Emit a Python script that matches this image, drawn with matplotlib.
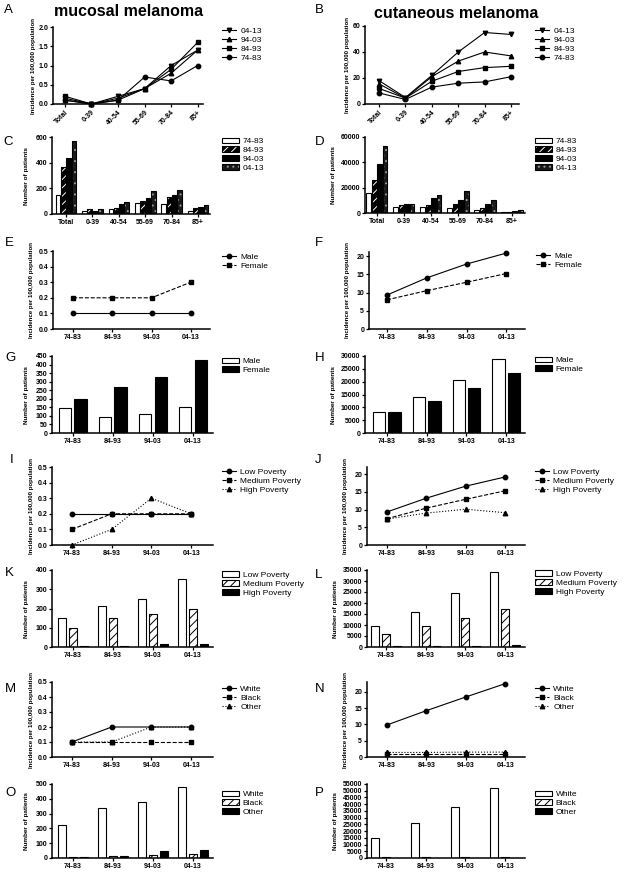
import matplotlib
matplotlib.use('Agg')
import matplotlib.pyplot as plt
from matplotlib.patches import Patch
from matplotlib import font_manager
import numpy as np

plt.rcParams['font.family'] = ['Liberation Sans', 'DejaVu Sans']
plt.rcParams['hatch.linewidth'] = 0.7

_names = {f.name for f in font_manager.fontManager.ttflist}
NARROW = 'Liberation Sans Narrow' in _names
LABEL_FAMILY = (['Liberation Sans Narrow', 'Liberation Sans', 'DejaVu Sans'] if NARROW
                else ['Liberation Sans', 'DejaVu Sans'])
INC_FS = 5.3 if NARROW else 4.4
NUM_FS = 5.5 if NARROW else 4.6

# ---------------- data ----------------
age_groups = ['Total', '0-39', '40-54', '55-69', '70-84', '85+']
periods = ['74-83', '84-93', '94-03', '04-13']

# A: mucosal incidence by age
muc_inc_0413 = [0.15, 0.0, 0.2, 0.4, 1.0, 1.4]
muc_inc_9403 = [0.1, 0.0, 0.15, 0.4, 0.8, 1.4]
muc_inc_8493 = [0.2, 0.0, 0.1, 0.4, 0.9, 1.6]
muc_inc_7483 = [0.1, 0.0, 0.1, 0.7, 0.6, 1.0]
# B: cutaneous incidence by age
cut_inc_0413 = [18, 5, 22, 40, 55, 53.5]
cut_inc_9403 = [15.5, 4.5, 21, 33, 40, 37]
cut_inc_8493 = [12, 4.5, 17.5, 25, 28, 29]
cut_inc_7483 = [8.5, 3.5, 13, 16, 17, 21]
# C: mucosal patients by age
muc_n_7483 = [145, 25, 40, 85, 80, 20]
muc_n_8493 = [365, 40, 50, 105, 130, 45]
muc_n_9403 = [435, 25, 80, 125, 145, 55]
muc_n_0413 = [570, 40, 95, 180, 185, 70]
# D: cutaneous patients by age
cut_n_7483 = [15500, 4500, 4500, 4000, 2000, 500]
cut_n_8493 = [26000, 6500, 6500, 7000, 4000, 700]
cut_n_9403 = [38500, 7500, 11500, 10000, 7500, 1200]
cut_n_0413 = [52500, 7500, 14000, 17000, 10500, 2500]
# E-H: sex
sex = ['Male', 'Female']
muc_inc_male = [0.1, 0.1, 0.1, 0.1]
muc_inc_female = [0.2, 0.2, 0.2, 0.3]
cut_inc_male = [9.3, 14.0, 17.8, 20.8]
cut_inc_female = [8.0, 10.5, 12.8, 15.2]
muc_n_male = [145, 95, 110, 150]
muc_n_female = [200, 270, 330, 425]
cut_n_male = [8000, 14000, 20800, 28800]
cut_n_female = [8000, 12300, 17600, 23500]
# I-L: poverty
poverty = ['Low Poverty', 'Medium Poverty', 'High Poverty']
muc_inc_low = [0.2, 0.2, 0.2, 0.2]
muc_inc_med = [0.1, 0.2, 0.2, 0.2]
muc_inc_high = [0.0, 0.1, 0.3, 0.2]
cut_inc_low = [9.3, 13.2, 16.6, 19.2]
cut_inc_med = [7.4, 10.4, 12.9, 15.3]
cut_inc_high = [7.3, 9.0, 10.1, 9.1]
muc_n_low = [150, 215, 250, 352]
muc_n_med = [97, 150, 173, 200]
muc_n_high = [3, 5, 18, 18]
cut_n_low = [9500, 16000, 24500, 34200]
cut_n_med = [6000, 9500, 13200, 17200]
cut_n_high = [300, 400, 500, 800]
# M-P: race
race = ['White', 'Black', 'Other']
muc_inc_white = [0.1, 0.2, 0.2, 0.2]
muc_inc_black = [0.1, 0.1, 0.1, 0.1]
muc_inc_other = [0.1, 0.1, 0.2, 0.2]
cut_inc_white = [9.8, 14.2, 18.4, 22.5]
cut_inc_black = [0.9, 0.9, 0.9, 0.9]
cut_inc_other = [1.4, 1.4, 1.5, 1.5]
muc_n_white = [225, 340, 378, 480]
muc_n_black = [10, 12, 20, 28]
muc_n_other = [8, 15, 45, 55]
cut_n_white = [15000, 26000, 38000, 52000]
cut_n_black = [500, 500, 500, 500]
cut_n_other = [300, 300, 300, 300]

# ---------------- helpers ----------------
W, H = 623, 876
fig = plt.figure(figsize=(W / 100, H / 100), dpi=100)

INC_LABEL = 'Incidence per 100,000 population'
NUM_LABEL = 'Number of patients'
TICK_FS = 5.0


def make_ax(l, t, r, b):
    ax = fig.add_axes([l / W, 1 - b / H, (r - l) / W, (b - t) / H])
    ax.spines[['top', 'right']].set_visible(False)
    ax.spines[['left', 'bottom']].set_linewidth(1.1)
    ax.tick_params(axis='both', width=0.9, length=2.3, labelsize=TICK_FS, pad=1.2)
    return ax


def set_y(ax, top_tick, step, fmt, ymax=None):
    ticks = np.arange(0, top_tick + step / 2, step)
    ax.set_ylim(0, ymax if ymax is not None else top_tick)
    ax.set_yticks(ticks, [fmt.format(v) for v in ticks], fontweight='bold', fontsize=TICK_FS)


def set_x(ax, cats, xlim, rot=0):
    ax.set_xlim(*xlim)
    if rot:
        ax.set_xticks(range(len(cats)), cats, fontweight='bold', fontsize=TICK_FS,
                      rotation=rot, ha='right', rotation_mode='anchor')
    else:
        ax.set_xticks(range(len(cats)), cats, fontweight='bold', fontsize=TICK_FS)


def ylabel(x_px, ax, text, fs):
    bb = ax.get_position()
    fig.text(x_px / W, bb.y0 + bb.height / 2, text, rotation=90, ha='center', va='center',
             fontsize=fs, fontweight='bold', family=LABEL_FAMILY)


def add_legend(ax, handles, labels, x_px, y_px, hl=1.7):
    ax.legend(handles, labels, loc='upper left', bbox_to_anchor=(x_px / W, 1 - y_px / H),
              bbox_transform=fig.transFigure, frameon=False, fontsize=6, borderpad=0,
              borderaxespad=0, labelspacing=0.12, handlelength=hl, handletextpad=0.5)


def letter(x_px, y_px, s):
    fig.text(x_px / W, 1 - y_px / H, s, fontsize=9.5, ha='left', va='top')


def line(ax, vals, marker, ls='-'):
    return ax.plot(range(len(vals)), vals, color='black', lw=0.8, ls=ls, marker=marker,
                   ms=3.2, clip_on=False)[0]


S_WHITE = ('white', None, None)
S_BLACK = ('black', None, None)
S_STRIPE_DARK = ('black', '////', 'white')
S_STRIPE_LIGHT = ('white', '////', 'black')
S_DOTS = ('#1a1a1a', '...', '#9a9a9a')


def bars(ax, x, vals, w, st):
    face, hatch, hcol = st
    if hatch:
        ax.bar(x, vals, w, color=face, edgecolor=hcol, hatch=hatch, linewidth=0)
        ax.bar(x, vals, w, fill=False, edgecolor='black', linewidth=0.8)
        return (Patch(facecolor=face, edgecolor=hcol, hatch=hatch, linewidth=0),
                Patch(fill=False, edgecolor='black', linewidth=0.8))
    ax.bar(x, vals, w, color=face, edgecolor='black', linewidth=0.8)
    return Patch(facecolor=face, edgecolor='black', linewidth=0.8)


def grouped(ax, series, styles, width, step):
    n = len(series)
    hs = []
    for i, (vals, st) in enumerate(zip(series, styles)):
        x = np.arange(len(vals)) + (i - (n - 1) / 2) * step
        hs.append(bars(ax, x, vals, width, st))
    return hs


# ---------------- A ----------------
ax = make_ax(53, 27, 203, 104)
hA = [line(ax, muc_inc_0413, 'v'), line(ax, muc_inc_9403, '^'),
      line(ax, muc_inc_8493, 's'), line(ax, muc_inc_7483, 'o')]
set_y(ax, 2.0, 0.5, '{:.1f}')
set_x(ax, age_groups, (-0.45, 5.2), rot=45)
ylabel(33, ax, INC_LABEL, INC_FS)
add_legend(ax, hA, ['04-13', '94-03', '84-93', '74-83'], 222, 27.5)
letter(4, 4, 'A')
fig.text(129 / W, 1 - 11 / H, 'mucosal melanoma', fontsize=11.5, fontweight='bold',
         ha='center', va='center')

# ---------------- B ----------------
ax = make_ax(365, 26, 519, 104)
hB = [line(ax, cut_inc_0413, 'v'), line(ax, cut_inc_9403, '^'),
      line(ax, cut_inc_8493, 's'), line(ax, cut_inc_7483, 'o')]
set_y(ax, 60, 20, '{:.0f}')
set_x(ax, age_groups, (-0.53, 5.3), rot=45)
ylabel(348, ax, INC_LABEL, INC_FS)
add_legend(ax, hB, ['04-13', '94-03', '84-93', '74-83'], 535, 27.5)
letter(315, 4, 'B')
fig.text(456 / W, 1 - 14 / H, 'cutaneous melanoma', fontsize=11.5, fontweight='bold',
         ha='center', va='center')

# ---------------- C ----------------
ax = make_ax(52, 137, 210, 214)
hC = grouped(ax, [muc_n_7483, muc_n_8493, muc_n_9403, muc_n_0413],
             [S_WHITE, S_STRIPE_DARK, S_BLACK, S_DOTS], 0.18, 0.2)
set_y(ax, 600, 200, '{:.0f}')
set_x(ax, age_groups, (-0.53, 5.45))
ylabel(27, ax, NUM_LABEL, NUM_FS)
add_legend(ax, hC, periods, 222, 137.5, hl=2.0)
letter(3, 136, 'C')

# ---------------- D ----------------
ax = make_ax(365, 137, 525, 213)
hD = grouped(ax, [cut_n_7483, cut_n_8493, cut_n_9403, cut_n_0413],
             [S_WHITE, S_STRIPE_DARK, S_BLACK, S_DOTS], 0.18, 0.2)
set_y(ax, 60000, 20000, '{:.0f}')
set_x(ax, age_groups, (-0.44, 5.48))
ylabel(334, ax, NUM_LABEL, NUM_FS)
add_legend(ax, hD, periods, 535, 137.5, hl=2.0)
letter(315, 136, 'D')

# ---------------- E ----------------
ax = make_ax(53, 251, 210, 329)
hE = [line(ax, muc_inc_male, 'o'), line(ax, muc_inc_female, 's', '--')]
set_y(ax, 0.5, 0.1, '{:.1f}')
set_x(ax, periods, (-0.51, 3.49))
ylabel(32, ax, INC_LABEL, INC_FS)
add_legend(ax, hE, sex, 222, 253.5)
letter(5, 237, 'E')

# ---------------- F ----------------
ax = make_ax(369, 252, 525, 329)
hF = [line(ax, cut_inc_male, 'o'), line(ax, cut_inc_female, 's', '--')]
set_y(ax, 20, 5, '{:.0f}', ymax=21.1)
set_x(ax, periods, (-0.45, 3.47))
ylabel(347, ax, INC_LABEL, INC_FS)
add_legend(ax, hF, sex, 536, 252.5)
letter(315, 237, 'F')

# ---------------- G ----------------
ax = make_ax(52, 356, 213, 433)
hG = grouped(ax, [muc_n_male, muc_n_female], [S_WHITE, S_BLACK], 0.31, 0.39)
set_y(ax, 450, 50, '{:.0f}')
set_x(ax, periods, (-0.52, 3.5))
ylabel(27, ax, NUM_LABEL, NUM_FS)
add_legend(ax, hG, sex, 222, 357.5, hl=2.0)
letter(5, 352, 'G')

# ---------------- H ----------------
ax = make_ax(365, 356, 525, 433)
hH = grouped(ax, [cut_n_male, cut_n_female], [S_WHITE, S_BLACK], 0.31, 0.39)
set_y(ax, 30000, 5000, '{:.0f}')
set_x(ax, periods, (-0.55, 3.47))
ylabel(334, ax, NUM_LABEL, NUM_FS)
add_legend(ax, hH, sex, 535, 356.5, hl=2.0)
letter(315, 352, 'H')

# ---------------- I ----------------
ax = make_ax(52, 467, 213, 545)
hI = [line(ax, muc_inc_low, 'o'), line(ax, muc_inc_med, 's', '--'),
      line(ax, muc_inc_high, '^', ':')]
set_y(ax, 0.5, 0.1, '{:.1f}')
set_x(ax, periods, (-0.5, 3.55))
ylabel(32, ax, INC_LABEL, INC_FS)
add_legend(ax, hI, poverty, 222, 468.5)
letter(10, 454, 'I')

# ---------------- J ----------------
ax = make_ax(367, 467, 525, 545)
hJ = [line(ax, cut_inc_low, 'o'), line(ax, cut_inc_med, 's', '--'),
      line(ax, cut_inc_high, '^', ':')]
set_y(ax, 20, 5, '{:.0f}', ymax=22)
set_x(ax, periods, (-0.5, 3.5))
ylabel(345, ax, INC_LABEL, INC_FS)
add_legend(ax, hJ, poverty, 535, 468.5)
letter(315, 454, 'J')

# ---------------- K ----------------
ax = make_ax(52, 570, 213, 647)
hK = grouped(ax, [muc_n_low, muc_n_med, muc_n_high],
             [S_WHITE, S_STRIPE_LIGHT, S_BLACK], 0.2, 0.27)
set_y(ax, 400, 100, '{:.0f}')
set_x(ax, periods, (-0.52, 3.5))
ylabel(27, ax, NUM_LABEL, NUM_FS)
add_legend(ax, hK, poverty, 222, 571.5, hl=2.0)
letter(5, 567, 'K')

# ---------------- L ----------------
ax = make_ax(367, 570, 525, 647)
hL = grouped(ax, [cut_n_low, cut_n_med, cut_n_high],
             [S_WHITE, S_STRIPE_LIGHT, S_BLACK], 0.2, 0.27)
set_y(ax, 35000, 5000, '{:.0f}')
set_x(ax, periods, (-0.48, 3.5))
ylabel(335, ax, NUM_LABEL, NUM_FS)
add_legend(ax, hL, poverty, 535, 570.5, hl=2.0)
letter(315, 569, 'L')

# ---------------- M ----------------
ax = make_ax(52, 682, 213, 757)
hM = [line(ax, muc_inc_white, 'o'), line(ax, muc_inc_black, 's', '--'),
      line(ax, muc_inc_other, '^', ':')]
set_y(ax, 0.5, 0.1, '{:.1f}')
set_x(ax, periods, (-0.5, 3.55))
ylabel(32, ax, INC_LABEL, INC_FS)
add_legend(ax, hM, race, 222, 685.5)
letter(5, 683, 'M')

# ---------------- N ----------------
ax = make_ax(367, 682, 525, 757)
hN = [line(ax, cut_inc_white, 'o'), line(ax, cut_inc_black, 's', '--'),
      line(ax, cut_inc_other, '^', ':')]
set_y(ax, 20, 5, '{:.0f}', ymax=23)
set_x(ax, periods, (-0.5, 3.5))
ylabel(345, ax, INC_LABEL, INC_FS)
add_legend(ax, hN, race, 535, 685.5)
letter(315, 683, 'N')

# ---------------- O ----------------
ax = make_ax(52, 784, 213, 858)
hO = grouped(ax, [muc_n_white, muc_n_black, muc_n_other],
             [S_WHITE, S_STRIPE_LIGHT, S_BLACK], 0.2, 0.27)
set_y(ax, 500, 100, '{:.0f}')
set_x(ax, periods, (-0.52, 3.5))
ylabel(27, ax, NUM_LABEL, NUM_FS)
add_legend(ax, hO, race, 222, 790.5, hl=2.0)
letter(5, 787, 'O')

# ---------------- P ----------------
ax = make_ax(367, 784, 525, 858)
hP = grouped(ax, [cut_n_white, cut_n_black, cut_n_other],
             [S_WHITE, S_STRIPE_LIGHT, S_BLACK], 0.2, 0.27)
set_y(ax, 55000, 5000, '{:.0f}')
set_x(ax, periods, (-0.48, 3.5))
ylabel(335, ax, NUM_LABEL, NUM_FS)
add_legend(ax, hP, race, 535, 790.5, hl=2.0)
letter(315, 787, 'P')

fig.savefig('out.png', dpi=100)
